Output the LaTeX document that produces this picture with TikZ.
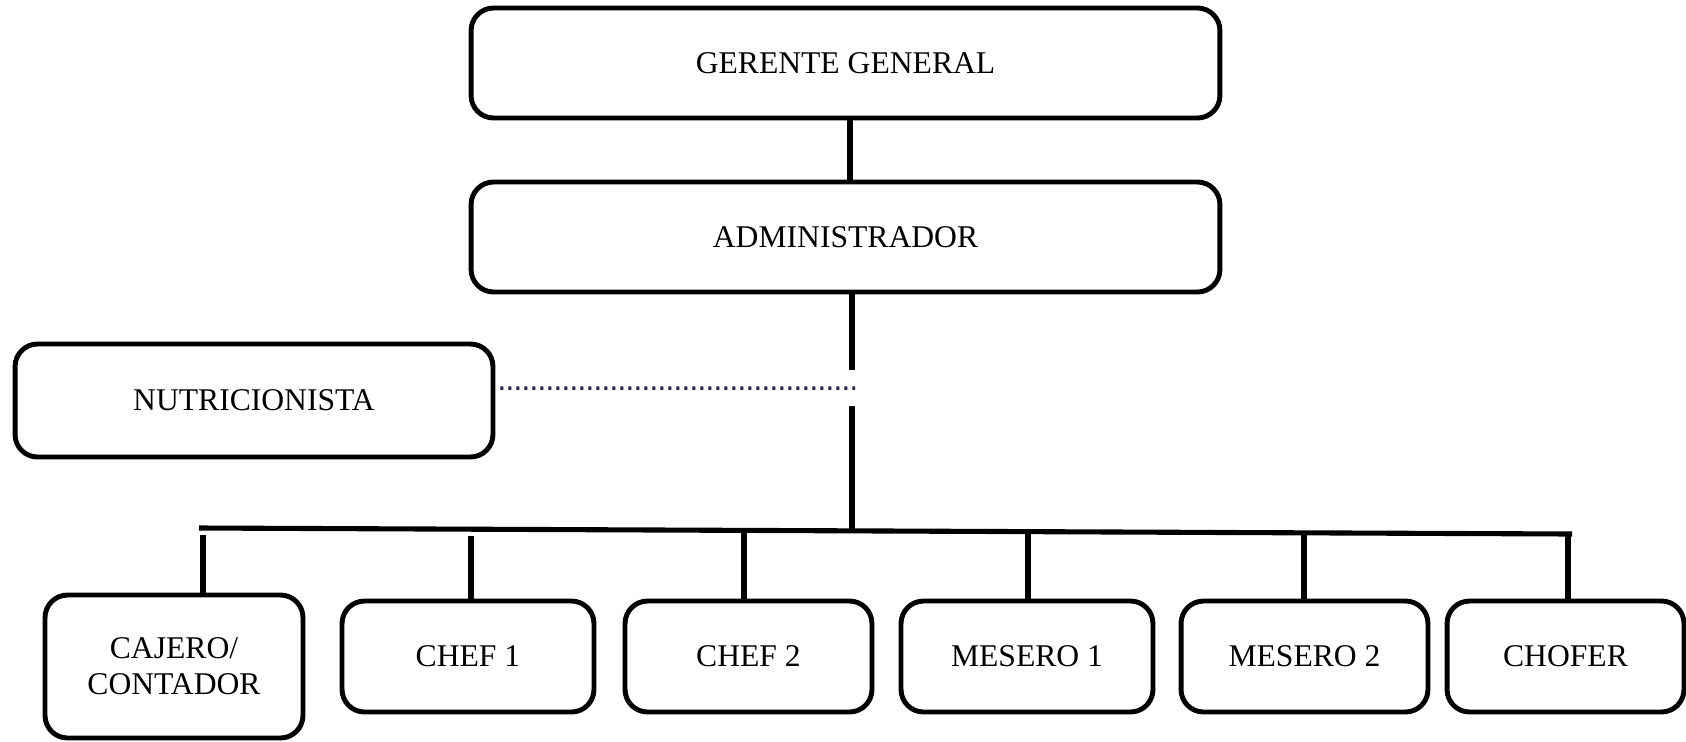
\documentclass[tikz,border=0pt]{standalone}
\usepackage{fontspec}
\setmainfont{Liberation Serif}
\usetikzlibrary{positioning}

\definecolor{punteo}{RGB}{35,35,70}

\begin{document}
\begin{tikzpicture} [
    x=0.02cm, y=-0.02cm,
    puesto/.style={rectangle, draw=black, line width=2.8pt, rounded corners=0.45cm, inner sep=0pt, font=\fontsize{18}{20.5}\selectfont, align=center},
    linea/.style={line width=2.9pt, black},
    enlace/.style={punteo, line width=2pt, dash pattern=on 0.06cm off 0.1cm}
]
\useasboundingbox (0,0) rectangle (1686,741);

% Upper levels
\node[puesto, minimum width=14.98cm, minimum height=2.2cm] (ger) at (845.5,63) {GERENTE GENERAL};
\node[puesto, minimum width=14.98cm, minimum height=2.2cm] (adm) at (845.5,237) {ADMINISTRADOR};
\node[puesto, minimum width=9.56cm, minimum height=2.26cm] (nut) at (254,400.5) {NUTRICIONISTA};

% Staff row
\node[puesto, minimum width=5.16cm, minimum height=2.86cm] (caj) at (174,666.5) {CAJERO/\\CONTADOR};
\node[puesto, minimum width=5.04cm, minimum height=2.22cm] (chef1) at (468,656.5) {CHEF 1};
\node[puesto, minimum width=4.94cm, minimum height=2.22cm] (chef2) at (748.5,656.5) {CHEF 2};
\node[puesto, minimum width=5.04cm, minimum height=2.22cm] (mes1) at (1027,656.5) {MESERO 1};
\node[puesto, minimum width=4.94cm, minimum height=2.22cm] (mes2) at (1304.5,656.5) {MESERO 2};
\node[puesto, minimum width=4.74cm, minimum height=2.22cm] (cho) at (1565.5,656.5) {CHOFER};

% Bus line
\coordinate (busL) at (199,528);
\coordinate (busR) at (1572,534);
\coordinate (bajada) at (852,531);
\coordinate (cruce) at (855,388);

\draw[linea] ([xshift=0.09cm]ger.south) -- ([xshift=0.09cm]adm.north);
\draw[linea] (adm.south -| bajada) -- (bajada);
\draw[linea] (busL) -- (busR);

% Drops to each post (the first two start just below the bus)
\foreach \n/\x/\y in {caj/203/535, chef1/471/536, chef2/744/530, mes1/1028/531.6, mes2/1304/532.8, cho/1568/534} {
    \coordinate (arriba) at (\x,\y);
    \draw[linea] (arriba) -- (arriba |- \n.north);
}

% Advisory link
\draw[enlace, preaction={draw=white, line width=0.72cm, solid}] ([shift={(0.1cm,0.25cm)}]nut.east) -- (cruce);

\end{tikzpicture}
\end{document}
